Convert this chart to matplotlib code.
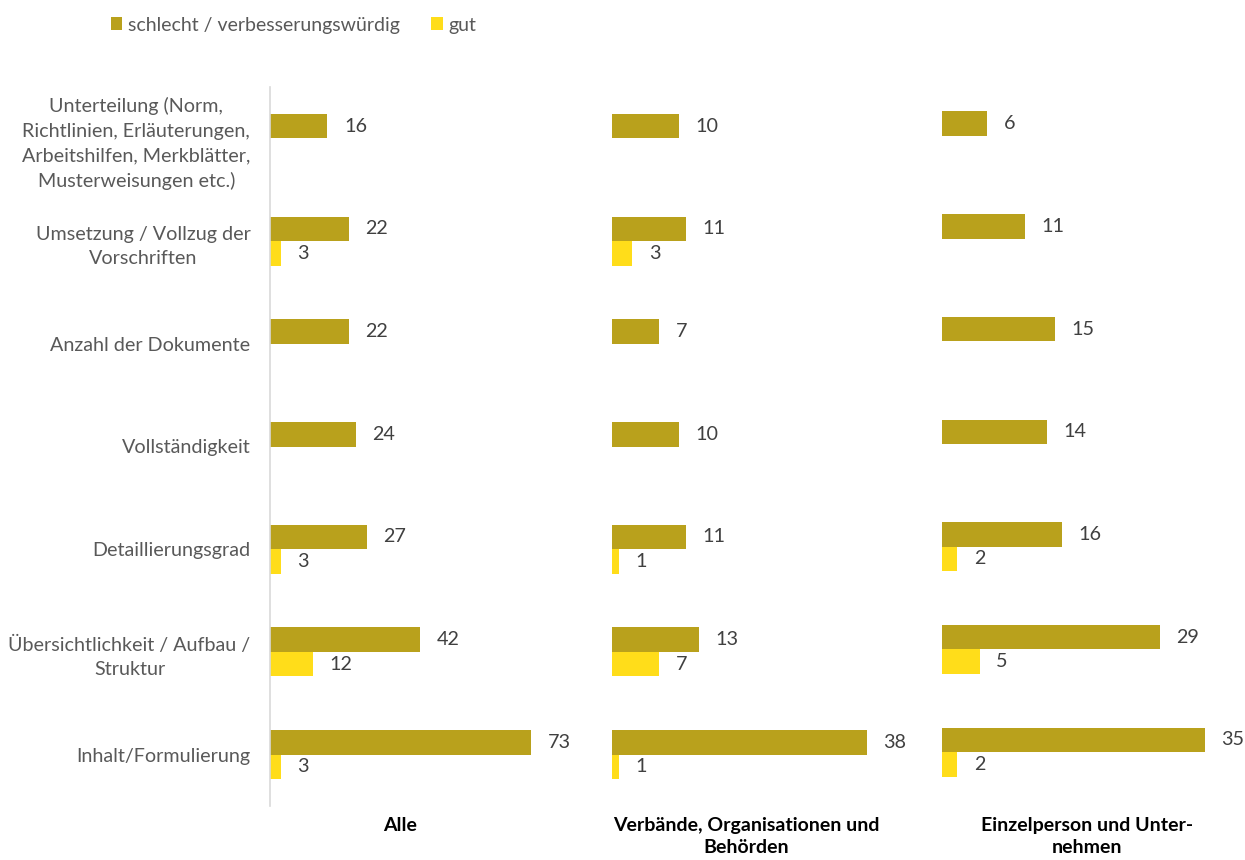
import matplotlib
matplotlib.use("Agg")
import matplotlib.pyplot as plt
import numpy as np

plt.rcParams['font.family'] = ['Lato', 'DejaVu Sans']

categories = [
    "Unterteilung (Norm,\nRichtlinien, Erläuterungen,\nArbeitshilfen, Merkblätter,\nMusterweisungen etc.)",
    "Umsetzung / Vollzug der\nVorschriften",
    "Anzahl der Dokumente",
    "Vollständigkeit",
    "Detaillierungsgrad",
    "Übersichtlichkeit / Aufbau /\nStruktur",
    "Inhalt/Formulierung",
]
panel_titles = ["Alle", "Verbände, Organisationen und\nBehörden", "Einzelperson und Unter-\nnehmen"]
series_names = ["schlecht / verbesserungswürdig", "gut"]

alle_schlecht = [16, 22, 22, 24, 27, 42, 73]
alle_gut = [None, 3, None, None, 3, 12, 3]
verb_schlecht = [10, 11, 7, 10, 11, 13, 38]
verb_gut = [None, 3, None, None, 1, 7, 1]
einz_schlecht = [6, 11, 15, 14, 16, 29, 35]
einz_gut = [None, None, None, None, 2, 5, 2]

GOLD = "#B9A11C"
YELLOW = "#FFDD1A"
TXT = "#595959"
VAL = "#404040"

W, H = 1245, 860
fig = plt.figure(figsize=(W / 100, H / 100), dpi=100)

# (left px, width px, xmax, vertical shift px)
panels = [
    (270, 286, 80, 0, alle_schlecht, alle_gut),
    (612, 268, 40, 0, verb_schlecht, verb_gut),
    (942, 300, 40, 2.5, einz_schlecht, einz_gut),
]
title_x = [400, 746, 1087]

top_px, bot_px = 87, 806
bh = 0.238
y = np.arange(len(categories))
FS = 14.2

for k, (lpx, wpx, xmax, shift, s_vals, g_vals) in enumerate(panels):
    ax = fig.add_axes([lpx / W, 1 - (bot_px - shift) / H, wpx / W, (bot_px - top_px) / H])
    ax.set_xlim(0, xmax)
    ax.set_ylim(len(categories) - 0.5, -0.5)
    for sp in ax.spines.values():
        sp.set_visible(False)
    ax.set_xticks([])
    if k == 0:
        ax.spines['left'].set_visible(True)
        ax.spines['left'].set_color("#D9D9D9")
        ax.spines['left'].set_linewidth(1.2)
        ax.set_yticks(y)
        ax.set_yticklabels(categories, fontsize=FS, color=TXT, multialignment='center',
                           linespacing=1.53)
        ax.tick_params(axis='y', length=0, pad=14)
    else:
        ax.set_yticks([])
    s = [v if v is not None else 0 for v in s_vals]
    g = [v if v is not None else 0 for v in g_vals]
    ax.barh(y - bh / 2, s, height=bh, color=GOLD, label=series_names[0])
    ax.barh(y + bh / 2, g, height=bh, color=YELLOW, label=series_names[1])
    for i in range(len(categories)):
        if s_vals[i] is not None:
            ax.annotate(str(s_vals[i]), (s_vals[i], i - bh / 2), xytext=(12, 0),
                        textcoords='offset points', va='center', ha='left',
                        fontsize=FS, color=VAL)
        if g_vals[i] is not None:
            ax.annotate(str(g_vals[i]), (g_vals[i], i + bh / 2), xytext=(12, 0),
                        textcoords='offset points', va='center', ha='left',
                        fontsize=FS, color=VAL)
    fig.text(title_x[k] / W, 1 - 817 / H, panel_titles[k], ha='center', va='top',
             fontsize=14, fontweight='bold', color='black', linespacing=1.38)
    if k == 0:
        handles, labels = ax.get_legend_handles_labels()

fig.legend(handles, labels, loc='center left', bbox_to_anchor=(103 / W, 1 - 25 / H),
           ncol=2, frameon=False, fontsize=14, handlelength=0.6, handleheight=0.6,
           handletextpad=0.3, columnspacing=1.6, labelcolor=TXT, borderaxespad=0)

fig.savefig("out.png", dpi=100, facecolor='white')
